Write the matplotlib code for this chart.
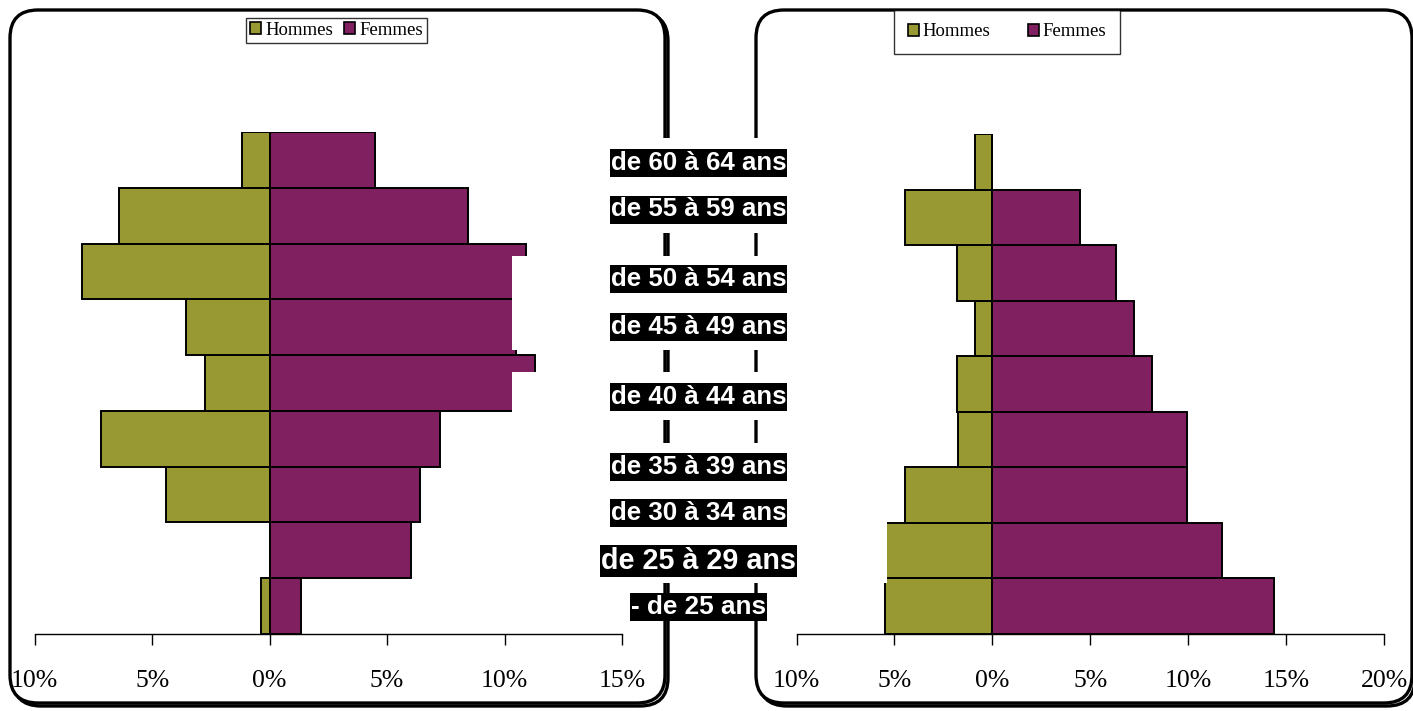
import matplotlib
matplotlib.use("Agg")
import matplotlib.pyplot as plt
from matplotlib.patches import FancyBboxPatch, Rectangle, Patch
from matplotlib.transforms import IdentityTransform

# ---------------- data ----------------
categories = ["- de 25 ans", "de 25 à 29 ans", "de 30 à 34 ans", "de 35 à 39 ans",
              "de 40 à 44 ans", "de 45 à 49 ans", "de 50 à 54 ans", "de 55 à 59 ans",
              "de 60 à 64 ans"]
left_hommes = [0.38, 0.0, 4.39, 7.16, 2.73, 3.58, 7.97, 6.42, 1.19]
left_femmes = [1.32, 6.03, 6.42, 7.24, 11.29, 10.48, 10.92, 8.43, 4.49]
right_hommes = [5.46, 5.41, 4.46, 1.77, 1.81, 0.90, 1.79, 4.46, 0.90]
right_femmes = [14.38, 11.71, 9.91, 9.92, 8.14, 7.23, 6.33, 4.47, 0.0]
series_names = ["Hommes", "Femmes"]
left_ticks = [-10, -5, 0, 5, 10, 15]
left_ticklabels = ["10%", "5%", "0%", "5%", "10%", "15%"]
right_ticks = [-10, -5, 0, 5, 10, 15, 20]
right_ticklabels = ["10%", "5%", "0%", "5%", "10%", "15%", "20%"]

OLIVE = "#999933"
PLUM = "#802060"

W, H = 1413, 711
fig = plt.figure(figsize=(W / 100, H / 100), dpi=100)
fig.patch.set_facecolor("white")


def px(x0, y0, x1, y1):
    """pixel box (top-left origin) -> figure fraction [l, b, w, h]"""
    return [x0 / W, 1 - y1 / H, (x1 - x0) / W, (y1 - y0) / H]


serif = ["Liberation Serif", "DejaVu Serif"]
sans = ["Liberation Sans", "DejaVu Sans"]


def panel(rect, hommes, femmes, ticks, ticklabels, xlim):
    ax = fig.add_axes(rect)
    ax.patch.set_alpha(0)
    y = list(range(len(categories)))
    ax.barh(y, [-v for v in hommes], height=1.0, color=OLIVE,
            edgecolor="black", linewidth=1.4)
    ax.barh(y, femmes, height=1.0, color=PLUM, edgecolor="black", linewidth=1.4)
    ax.set_xlim(*xlim)
    ax.set_ylim(-0.5, len(categories) - 0.5)
    for s in ("left", "right", "top"):
        ax.spines[s].set_visible(False)
    ax.spines["bottom"].set_linewidth(1.0)
    ax.set_yticks([])
    ax.set_xticks(ticks)
    ax.set_xticklabels(ticklabels, fontfamily=serif, fontsize=18.5)
    ax.tick_params(axis="x", direction="out", length=8, width=1.0, pad=18)
    return ax


axL = panel(px(34.7, 132, 622, 634), left_hommes, left_femmes,
            left_ticks, left_ticklabels, (-10, 15))
axR = panel(px(796.5, 134, 1384.2, 634), right_hommes, right_femmes,
            right_ticks, right_ticklabels, (-10, 20))

# ---------------- rounded panel borders (pixel coords) ----------------
def rounded(x0, y0, x1, y1):
    for dx, dy, face, z in ((3, 3, "none", -3), (0, 0, "white", -2)):
        p = FancyBboxPatch((x0 + dx, H - (y1 + dy)), x1 - x0, y1 - y0,
                           boxstyle="round,pad=0,rounding_size=28",
                           transform=IdentityTransform(), facecolor=face,
                           edgecolor="black", linewidth=2.4, zorder=z)
        fig.add_artist(p)


rounded(10, 10, 665, 703)
rounded(756, 10, 1412, 703)

# ---------------- white masks of the label area ----------------
for (y0, y1) in [(138, 233), (256, 350), (372, 420), (443, 583)]:
    fig.add_artist(Rectangle((512, H - y1), 887 - 512, y1 - y0,
                             transform=IdentityTransform(), facecolor="white",
                             edgecolor="none", zorder=4))

# ---------------- central category labels ----------------
label_y = [607, 561, 513, 467, 396.5, 326.5, 279, 209.5, 162.5]
label_size = [18.8, 20.7, 18.6, 18.6, 18.6, 18.6, 18.6, 18.6, 18.6]
label_texts = []
for cat, yy, fs in zip(categories, label_y, label_size):
    t = fig.text(698.5 / W, 1 - yy / H, cat, ha="center", va="center",
                 fontfamily=sans, fontweight="bold", fontsize=fs, color="white",
                 zorder=6)
    label_texts.append((t, yy))

fig.canvas.draw()
renderer = fig.canvas.get_renderer()
for t, yy in label_texts:
    bb = t.get_window_extent(renderer)
    hh = bb.height + 4
    fig.add_artist(Rectangle((bb.x0 - 1, (H - yy) - hh / 2), bb.width + 2, hh,
                             transform=IdentityTransform(), facecolor="black",
                             edgecolor="none", zorder=5.5))

# ---------------- legends ----------------
handles = [Patch(facecolor=OLIVE, edgecolor="black", linewidth=1.2),
           Patch(facecolor=PLUM, edgecolor="black", linewidth=1.2)]

legL = fig.legend(handles, series_names, loc="center",
                  bbox_to_anchor=(336.5 / W, 1 - 30.5 / H), ncol=2,
                  prop={"family": serif, "size": 13.5}, frameon=True,
                  fancybox=False, edgecolor="black", borderpad=0.2,
                  handlelength=0.6, handleheight=0.6, handletextpad=0.2,
                  columnspacing=0.6, borderaxespad=0)
legL.get_frame().set_linewidth(1.0)
legL.set_zorder(7)

legR = fig.legend(handles, series_names, loc="center",
                  bbox_to_anchor=(1007 / W, 1 - 32 / H), ncol=2,
                  prop={"family": serif, "size": 13.5}, frameon=True,
                  fancybox=False, edgecolor="black", borderpad=0.7,
                  handlelength=0.6, handleheight=0.6, handletextpad=0.2,
                  columnspacing=2.0, borderaxespad=0)
legR.get_frame().set_linewidth(1.0)
legR.set_zorder(7)

fig.savefig("out.png", dpi=100, facecolor="white")
